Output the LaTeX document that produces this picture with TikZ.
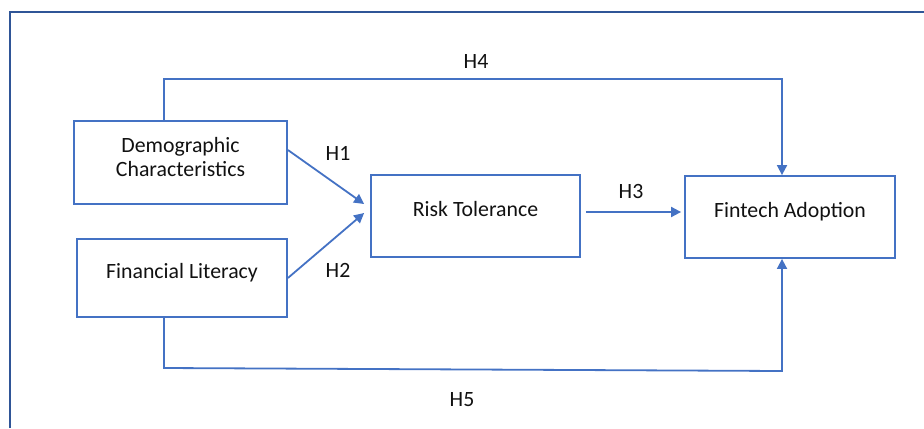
\documentclass[tikz,border=0pt]{standalone}
\usepackage{fontspec}
\setmainfont{Carlito}
\usetikzlibrary{positioning}
\usetikzlibrary{arrows.meta}
\definecolor{lineblue}{HTML}{4472C4}
\definecolor{frameblue}{HTML}{2F5597}
\definecolor{inktext}{HTML}{111111}

\begin{document}
\begin{tikzpicture}[x=0.5pt, y=-0.5pt,
			font=\fontsize{10.9}{12}\selectfont, text=inktext,
			>={Triangle[length=5pt, width=5pt]},
			box/.style={draw=lineblue, line width=0.9pt, inner sep=0pt, text height=6pt, text depth=6pt},
			link/.style={draw=lineblue, line width=0.9pt}]
			\useasboundingbox (0,0) rectangle (924,428);
			\path[draw=frameblue, line width=1pt] (10,428) -- (10,12) -- (924,12);
			\node[box, minimum width=106.5pt, minimum height=41.5pt, align=center, text height=, text depth=](demo) at (180.5,162.5){Demographic\\Characteristics\\[-6pt]\mbox{}};
			\node[box, minimum width=105pt, minimum height=39pt](lit) at (182,278){Financial Literacy};
			\node[box, minimum width=104.5pt, minimum height=41pt](risk) at (475.5,216){Risk Tolerance};
			\node[box, minimum width=105pt, minimum height=41pt](fin) at (790,217){Fintech Adoption};
			\coordinate (h4top) at (164,79);
			\coordinate (h4end) at (782,79);
			\coordinate (h5low) at (164,368);
			\coordinate (h5end) at (782,371);
			\path[link, ->] ([yshift=6.25pt]demo.east) -- ([xshift=-3pt, yshift=6pt]risk.west);
			\path[link, ->] (lit.east) -- ([xshift=-3pt, yshift=1.5pt]risk.west);
			\path[link, ->] ([xshift=2.5pt, yshift=2pt]risk.east) -- ([xshift=-1.5pt, yshift=2.5pt]fin.west);
			\path[link, ->] (demo.north -| h4top) -- (h4top) -- (h4end) -- (fin.north -| h4end);
			\path[link, ->] (lit.south -| h5low) -- (h5low) -- (h5end) -- (fin.south -| h5end);
			\node (lbla) at (338,153) {H1};
			\node (lblb) at (338,270) {H2};
			\node (lblc) at (631,191) {H3};
			\node (lbld) at (476,61) {H4};
			\node (lble) at (462,400) {H5};
	\end{tikzpicture}
\end{document}
